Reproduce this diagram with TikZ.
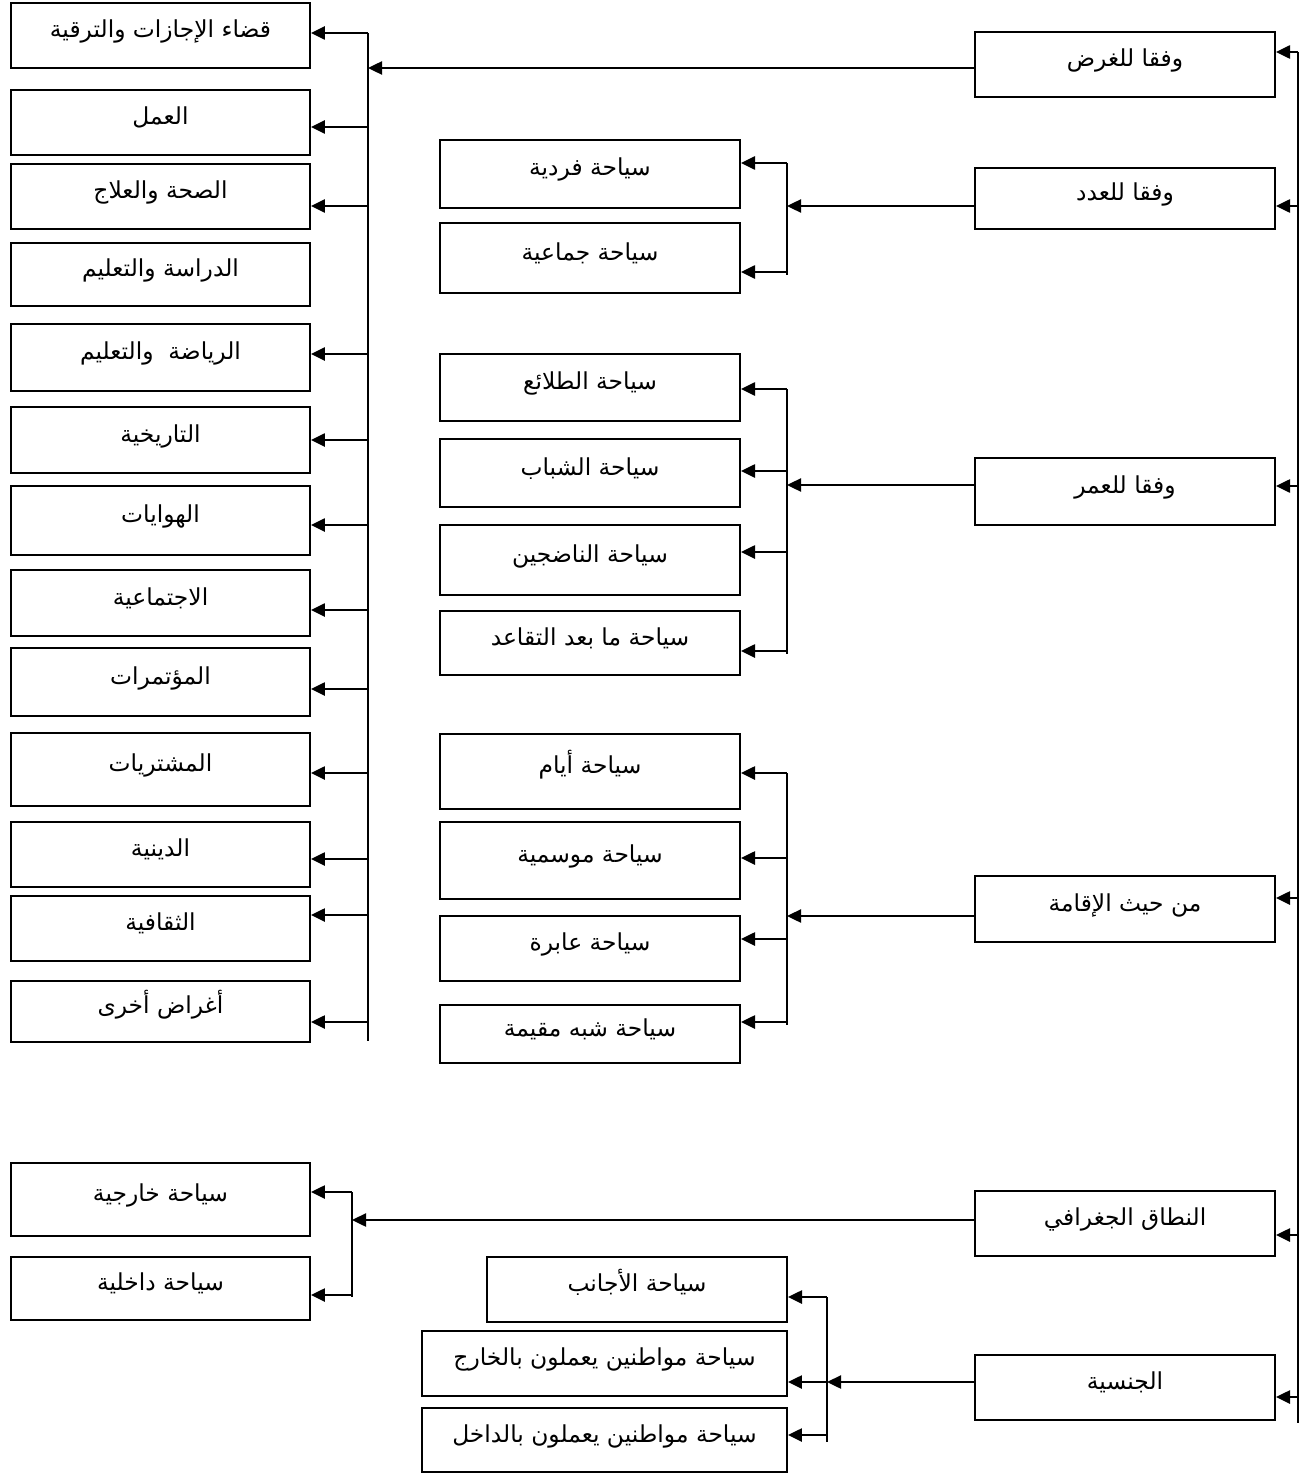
\documentclass[tikz,border=0pt]{standalone}
\usepackage{fontspec}
\newfontfamily\arabicfont[Script=Arabic]{DejaVu Sans}
\TeXXeTstate=1
\usetikzlibrary{arrows.meta}
\newcommand{\artxt}[1]{\beginR #1\endR}
\tikzset{
  box/.style={draw, line width=1.1pt, inner sep=0pt, minimum width=6cm,
    text height=0.48cm, text depth=0.4cm,
    font=\arabicfont\fontsize{13.3pt}{15pt}\selectfont},
  link/.style={line width=1.15pt},
  arr/.style={link, -{Triangle[length=8pt,width=7.5pt]}}
}
\begin{document}
\begin{tikzpicture}[x=0.02cm,y=-0.02cm]
  \useasboundingbox (0,0) rectangle (1311,1473);
  % Main criteria (right column)
  \node[box,minimum height=1.3cm]  (c1) at (1125,64.5)  {\artxt{وفقا للغرض}};
  \node[box,minimum height=1.22cm] (c2) at (1125,198.5) {\artxt{وفقا للعدد}};
  \node[box,minimum height=1.34cm] (c3) at (1125,491.5) {\artxt{وفقا للعمر}};
  \node[box,minimum height=1.32cm] (c4) at (1125,909)   {\artxt{من حيث الإقامة}};
  \node[box,minimum height=1.3cm]  (c5) at (1125,1223.5){\artxt{النطاق الجغرافي}};
  \node[box,minimum height=1.3cm]  (c6) at (1125,1387.5){\artxt{الجنسية}};
  % Purpose (left column)
  \node[box,minimum width=5.98cm,minimum height=1.3cm]  (p1)  at (160.5,35.5)  {\artxt{قضاء الإجازات والترقية}};
  \node[box,minimum width=5.98cm,minimum height=1.3cm]  (p2)  at (160.5,122.5) {\artxt{العمل}};
  \node[box,minimum width=5.98cm,minimum height=1.3cm]  (p3)  at (160.5,196.5) {\artxt{الصحة والعلاج}};
  \node[box,minimum width=5.98cm,minimum height=1.26cm] (p4)  at (160.5,274.5) {\artxt{الدراسة والتعليم}};
  \node[box,minimum width=5.98cm,minimum height=1.34cm] (p5)  at (160.5,357.5) {\artxt{الرياضة\ \ والتعليم}};
  \node[box,minimum width=5.98cm,minimum height=1.32cm] (p6)  at (160.5,440)   {\artxt{التاريخية}};
  \node[box,minimum width=5.98cm,minimum height=1.38cm] (p7)  at (160.5,520.5) {\artxt{الهوايات}};
  \node[box,minimum width=5.98cm,minimum height=1.32cm] (p8)  at (160.5,603)   {\artxt{الاجتماعية}};
  \node[box,minimum width=5.98cm,minimum height=1.36cm] (p9)  at (160.5,682)   {\artxt{المؤتمرات}};
  \node[box,minimum width=5.98cm,minimum height=1.46cm] (p10) at (160.5,769.5) {\artxt{المشتريات}};
  \node[box,minimum width=5.98cm,minimum height=1.3cm]  (p11) at (160.5,854.5) {\artxt{الدينية}};
  \node[box,minimum width=5.98cm,minimum height=1.3cm]  (p12) at (160.5,928.5) {\artxt{الثقافية}};
  \node[box,minimum width=5.98cm,minimum height=1.22cm] (p13) at (160.5,1011.5){\artxt{أغراض أخرى}};
  % Number
  \node[box,minimum height=1.36cm] (n1) at (590,174) {\artxt{سياحة فردية}};
  \node[box,minimum height=1.4cm]  (n2) at (590,258) {\artxt{سياحة جماعية}};
  % Age
  \node[box,minimum height=1.34cm] (a1) at (590,387.5) {\artxt{سياحة الطلائع}};
  \node[box,minimum height=1.36cm] (a2) at (590,473)   {\artxt{سياحة الشباب}};
  \node[box,minimum height=1.4cm]  (a3) at (590,560)   {\artxt{سياحة الناضجين}};
  \node[box,minimum height=1.28cm] (a4) at (590,643)   {\artxt{سياحة ما بعد التقاعد}};
  % Stay
  \node[box,minimum height=1.5cm]  (r1) at (590,771.5) {\artxt{سياحة أيام}};
  \node[box,minimum height=1.54cm] (r2) at (590,860.5) {\artxt{سياحة موسمية}};
  \node[box,minimum height=1.3cm]  (r3) at (590,948.5) {\artxt{سياحة عابرة}};
  \node[box,minimum height=1.16cm] (r4) at (590,1034)  {\artxt{سياحة شبه مقيمة}};
  % Geographic scope
  \node[box,minimum width=5.98cm,minimum height=1.46cm] (g1) at (160.5,1199.5) {\artxt{سياحة خارجية}};
  \node[box,minimum width=5.98cm,minimum height=1.26cm] (g2) at (160.5,1288.5) {\artxt{سياحة داخلية}};
  % Nationality
  \node[box,minimum height=1.3cm] (s1) at (637,1289.5) {\artxt{سياحة الأجانب}};
  \node[box,minimum width=7.3cm,minimum height=1.3cm]  (s2) at (604.5,1363.5) {\artxt{سياحة مواطنين يعملون بالخارج}};
  \node[box,minimum width=7.3cm,minimum height=1.28cm] (s3) at (604.5,1440)   {\artxt{سياحة مواطنين يعملون بالداخل}};

  % Main bus
  \draw[link] (1298,52) -- (1298,1423);
  \foreach \n/\y in {c1/52,c2/206,c3/486,c4/898,c5/1235,c6/1397}
    {\path (1298,\y) coordinate (t); \draw[arr] (t) -- (t -| \n.east);}

  % Purpose bus
  \draw[link] (368,33) -- (368,1041);
  \path (368,68) coordinate (jp);
  \draw[arr] (jp -| c1.west) -- (jp);
  \foreach \n/\y in {p1/33,p2/127,p3/206,p5/354,p6/440,p7/525,p8/610,p9/689,p10/773,p11/859,p12/915,p13/1022}
    {\path (368,\y) coordinate (t); \draw[arr] (t) -- (t -| \n.east);}

  % Number bus
  \draw[link] (787,163) -- (787,275);
  \path (787,206) coordinate (jn);
  \draw[arr] (jn -| c2.west) -- (jn);
  \foreach \n/\y in {n1/163,n2/272}
    {\path (787,\y) coordinate (t); \draw[arr] (t) -- (t -| \n.east);}

  % Age bus
  \draw[link] (787,389) -- (787,654);
  \path (787,485) coordinate (ja);
  \draw[arr] (ja -| c3.west) -- (ja);
  \foreach \n/\y in {a1/389,a2/471,a3/552,a4/651}
    {\path (787,\y) coordinate (t); \draw[arr] (t) -- (t -| \n.east);}

  % Stay bus
  \draw[link] (787,773) -- (787,1025);
  \path (787,916) coordinate (jr);
  \draw[arr] (jr -| c4.west) -- (jr);
  \foreach \n/\y in {r1/773,r2/858,r3/939,r4/1022}
    {\path (787,\y) coordinate (t); \draw[arr] (t) -- (t -| \n.east);}

  % Geographic bus
  \draw[link] (352,1192) -- (352,1297);
  \path (352,1220) coordinate (jg);
  \draw[arr] (jg -| c5.west) -- (jg);
  \foreach \n/\y in {g1/1192,g2/1295}
    {\path (352,\y) coordinate (t); \draw[arr] (t) -- (t -| \n.east);}

  % Nationality bus
  \draw[link] (827,1297) -- (827,1442);
  \path (827,1382) coordinate (js);
  \draw[arr] (js -| c6.west) -- (js);
  \foreach \n/\y in {s1/1297,s2/1382,s3/1435}
    {\path (827,\y) coordinate (t); \draw[arr] (t) -- (t -| \n.east);}
\end{tikzpicture}
\end{document}
